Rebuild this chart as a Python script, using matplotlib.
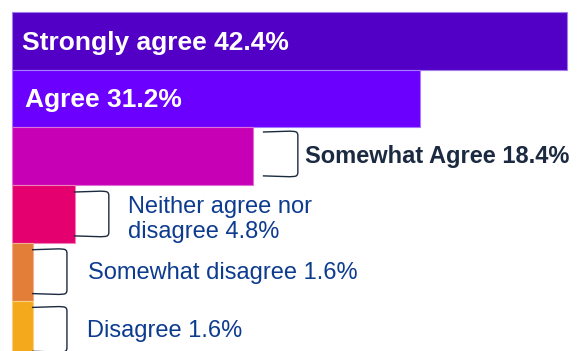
import matplotlib
matplotlib.use("Agg")
import matplotlib.pyplot as plt
from matplotlib.path import Path
from matplotlib.patches import PathPatch

categories = ["Strongly agree", "Agree", "Somewhat Agree",
              "Neither agree nor\ndisagree", "Somewhat disagree", "Disagree"]
values = [42.4, 31.2, 18.4, 4.8, 1.6, 1.6]
colors = ["#5200c6", "#6b00ff", "#c700b6", "#e4006e", "#e37e38", "#f4a81c"]
edge_colors = ["#a07de8", "#a87aff", "#e070d8", "#f080b8", "#f0b090", "#f8d080"]
labels = [f"{c} {v}%" for c, v in zip(categories, values)]

W, H = 584, 351
fig = plt.figure(figsize=(W / 100, H / 100), dpi=100)
ax = fig.add_axes([0, 0, 1, 1])

pxu = 555 / 42.4          # pixels per percent
row_px = 57.7
ax.set_xlim(-12 / pxu, (W - 12) / pxu)
ax.set_ylim((H - (12 + row_px / 2)) / row_px, -(12 + row_px / 2) / row_px)
ax.axis("off")

y = list(range(len(values)))
ax.barh(y, values, height=1.0, color=colors, edgecolor=edge_colors, linewidth=0.8)

font = "Liberation Sans"
# inside labels
inside_dx = [10, 13]
inside_dy = [0.03, 0.03]
for i in range(2):
    ax.text(inside_dx[i] / pxu, y[i] + inside_dy[i], labels[i], color="white",
            fontsize=19, fontweight="bold", family=font, va="center", ha="left")

# brackets + outside labels
gap_px = [10, -1, -1, -1]
text_gap_px = [7, 19, 21, 20]
text_dy = [0.0, 0.1, 0.02, 0.02]
text_colors = ["#1b2a41", "#0d3b8f", "#0d3b8f", "#0d3b8f"]
weights = ["bold", "normal", "normal", "normal"]
bw = 35 / pxu
bh = 45 / row_px
r = 4
for k, i in enumerate(range(2, 6)):
    x0 = values[i] + gap_px[k] / pxu
    x1 = x0 + bw
    yt = y[i] - bh / 2 - (0.04 if i == 2 else 0)
    yb = yt + bh
    rx = r / pxu
    ry = r / row_px
    verts = [(x0, yt + 0.01), (x1 - rx * 2, yt - 0.005), (x1 - rx, yt),
             (x1, yt), (x1, yt + ry),
             (x1, yb - ry),
             (x1, yb), (x1 - rx, yb),
             (x1 - rx * 2, yb + 0.005), (x0, yb - 0.01)]
    codes = [Path.MOVETO, Path.LINETO, Path.LINETO,
             Path.CURVE3, Path.CURVE3,
             Path.LINETO,
             Path.CURVE3, Path.CURVE3,
             Path.LINETO, Path.LINETO]
    ax.add_patch(PathPatch(Path(verts, codes), fill=False,
                           edgecolor="#1b2a3f", linewidth=1.0, clip_on=False))
    ax.text(x1 + text_gap_px[k] / pxu, y[i] + text_dy[k], labels[i],
            color=text_colors[k], fontsize=17, fontweight=weights[k],
            family=font, va="center", ha="left", linespacing=1.15)

fig.savefig("out.png", dpi=100)
